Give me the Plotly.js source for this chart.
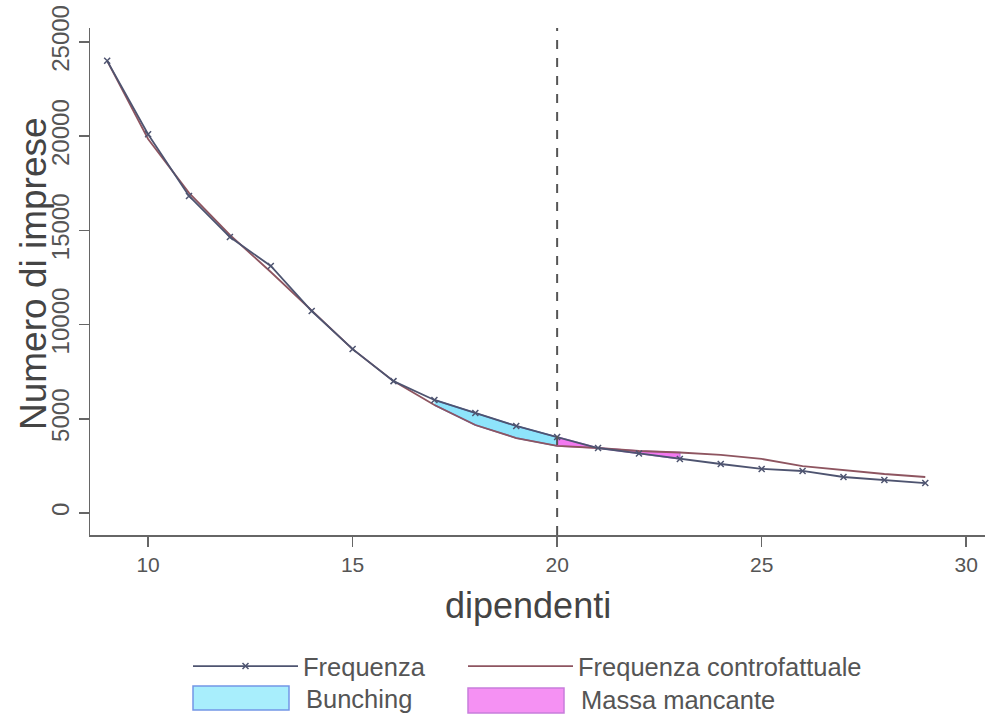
<!DOCTYPE html>
<html>
<head>
<meta charset="utf-8">
<script src="https://cdn.plot.ly/plotly-3.0.1.min.js"></script>
<style>html,body{margin:0;padding:0;background:#fff;}#chart{width:989px;height:719px;}</style>
</head>
<body>
<div id="chart"></div>
<script>
// Data
const dipendenti = [9,10,11,12,13,14,15,16,17,18,19,20,21,22,23,24,25,26,27,28,29];
const frequenza = [24000,20100,16830,14650,13110,10720,8700,7000,6000,5310,4620,4030,3450,3160,2870,2600,2340,2230,1910,1750,1590];
const controfattuale = [24000,19850,16990,14760,12790,10720,8700,7000,5730,4670,3980,3560,3450,3290,3210,3080,2870,2490,2280,2070,1910];
const soglia = 20;
const bunchingRange = [17, 20];
const mancanteRange = [20, 23];
const xTicks = [10, 15, 20, 25, 30];
const yTicks = [0, 5000, 10000, 15000, 20000, 25000];
const seriesNames = ['Frequenza', 'Frequenza controfattuale', 'Bunching', 'Massa mancante'];
const xTitle = 'dipendenti';
const yTitle = 'Numero di imprese';

function band(range) {
  const idx = dipendenti.map((d, i) => i).filter(i => dipendenti[i] >= range[0] && dipendenti[i] <= range[1]);
  const xs = idx.map(i => dipendenti[i]).concat(idx.slice().reverse().map(i => dipendenti[i]));
  const ys = idx.map(i => frequenza[i]).concat(idx.slice().reverse().map(i => controfattuale[i]));
  return {x: xs, y: ys};
}
const b = band(bunchingRange);
const m = band(mancanteRange);

const font = "Liberation Sans, Arial, Helvetica, sans-serif";
const bunchFill = 'rgb(142,228,251)', bunchLine = 'rgb(95,130,225)';
const massFill = 'rgb(243,120,240)', massLine = 'rgb(196,120,225)';
const legFont = {size: 25.5, color: '#555', family: font};

const data = [
  {x: b.x, y: b.y, type: 'scatter', mode: 'lines', fill: 'toself', name: seriesNames[2],
   fillcolor: bunchFill, line: {color: bunchLine, width: 1.5}, showlegend: false, hoverinfo: 'skip'},
  {x: m.x, y: m.y, type: 'scatter', mode: 'lines', fill: 'toself', name: seriesNames[3],
   fillcolor: massFill, line: {color: massLine, width: 1.5}, showlegend: false, hoverinfo: 'skip'},
  {x: dipendenti, y: controfattuale, type: 'scatter', mode: 'lines', name: seriesNames[1],
   line: {color: 'rgb(142,85,96)', width: 1.8}, legend: 'legend2'},
  {x: dipendenti, y: frequenza, type: 'scatter', mode: 'lines+markers', name: seriesNames[0],
   line: {color: 'rgb(78,84,112)', width: 1.8},
   marker: {symbol: 'x-thin', size: 6, line: {color: 'rgb(78,84,112)', width: 1.5}, color: 'rgb(78,84,112)'},
   legend: 'legend'}
];

function px2x(p) { return (p - 90) / 895; }
function px2y(p) { return (535 - p) / 507; }

const layout = {
  width: 989, height: 719,
  margin: {l: 90, r: 4, t: 28, b: 184},
  paper_bgcolor: '#fff', plot_bgcolor: '#fff',
  font: {family: font, color: '#444'},
  showlegend: true,
  xaxis: {
    range: [8.58, 30.46], tickvals: xTicks, ticktext: xTicks.map(String),
    showgrid: false, zeroline: false, showline: true, linecolor: '#666', linewidth: 1.5,
    ticks: 'outside', ticklen: 10, tickwidth: 1.5, tickcolor: '#666',
    tickfont: {size: 21, color: '#555', family: font}
  },
  yaxis: {
    range: [-1168, 25743], tickvals: yTicks, ticktext: yTicks.map(String),
    showgrid: false, zeroline: false, showline: true, linecolor: '#666', linewidth: 1.5,
    ticks: 'outside', ticklen: 10, tickwidth: 1.5, tickcolor: '#666', tickangle: -90,
    tickfont: {size: 24, color: '#555', family: font}
  },
  shapes: [
    {type: 'line', xref: 'x', yref: 'paper', x0: soglia, x1: soglia, y0: 0, y1: 1,
     line: {color: '#555', width: 2, dash: 'dash'}},
    {type: 'rect', xref: 'paper', yref: 'paper', x0: px2x(193), x1: px2x(289), y0: px2y(710), y1: px2y(686),
     fillcolor: 'rgb(168,238,252)', line: {color: 'rgb(115,150,230)', width: 1.5}},
    {type: 'rect', xref: 'paper', yref: 'paper', x0: px2x(468), x1: px2x(564), y0: px2y(713), y1: px2y(688),
     fillcolor: 'rgb(245,145,243)', line: {color: 'rgb(200,125,220)', width: 1.5}}
  ],
  annotations: [
    {xref: 'paper', yref: 'paper', x: px2x(528), y: px2y(605), xanchor: 'center', yanchor: 'middle',
     text: xTitle, showarrow: false, font: {size: 36, color: '#444', family: font}},
    {xref: 'paper', yref: 'paper', x: px2x(33), y: px2y(274), xanchor: 'center', yanchor: 'middle',
     text: yTitle, textangle: -90, showarrow: false, font: {size: 37, color: '#444', family: font}},
    {xref: 'paper', yref: 'paper', x: px2x(304), y: px2y(699), xanchor: 'left', yanchor: 'middle',
     text: seriesNames[2], showarrow: false, font: legFont},
    {xref: 'paper', yref: 'paper', x: px2x(579), y: px2y(700), xanchor: 'left', yanchor: 'middle',
     text: seriesNames[3], showarrow: false, font: legFont}
  ],
  legend: {
    x: px2x(188), xanchor: 'left', y: -0.213, yanchor: 'top',
    font: legFont, itemwidth: 105, bgcolor: 'rgba(0,0,0,0)'
  },
  legend2: {
    x: px2x(463), xanchor: 'left', y: -0.213, yanchor: 'top',
    font: legFont, itemwidth: 105, bgcolor: 'rgba(0,0,0,0)'
  }
};

Plotly.newPlot('chart', data, layout, {displayModeBar: false, staticPlot: true});
</script>
</body>
</html>
